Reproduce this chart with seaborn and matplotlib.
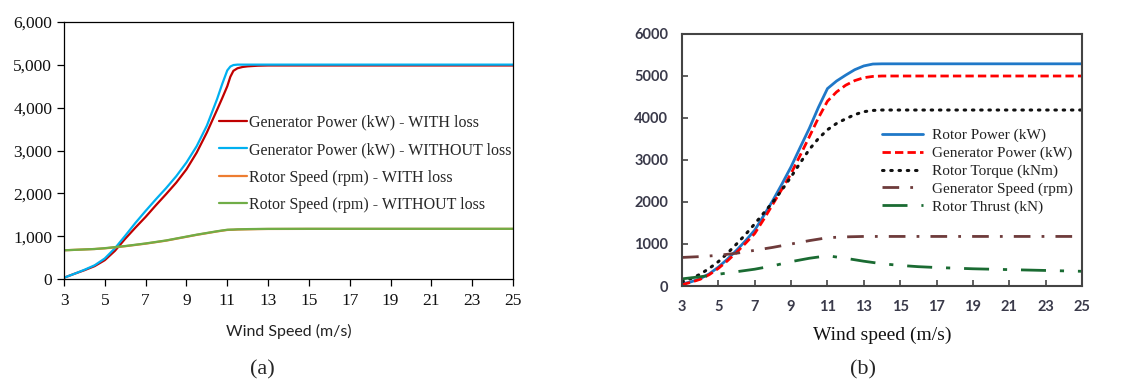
import matplotlib
matplotlib.use("Agg")
import matplotlib.pyplot as plt
import seaborn as sns
from matplotlib.ticker import FuncFormatter

# ---- panel (a) data ----
ws_a = [3, 3.5, 4, 4.5, 5, 5.5, 6, 6.5, 7, 7.5, 8, 8.5, 9, 9.5, 10, 10.5, 10.75, 11, 11.15, 11.3, 11.5, 11.75, 12, 12.5, 13, 15, 17, 19, 21, 23, 25]
gen_with = [30, 120, 205, 300, 440, 660, 940, 1200, 1450, 1720, 1980, 2250, 2560, 2950, 3420, 3950, 4220, 4500, 4720, 4860, 4920, 4950, 4965, 4980, 4985, 4985, 4985, 4985, 4985, 4985, 4985]
gen_without = [30, 120, 215, 320, 480, 720, 1010, 1310, 1590, 1860, 2120, 2400, 2720, 3100, 3580, 4200, 4550, 4870, 4960, 4995, 5005, 5005, 5005, 5005, 5005, 5005, 5005, 5005, 5005, 5005, 5005]
rot_with = [670, 680, 690, 700, 715, 740, 765, 795, 825, 860, 895, 940, 985, 1030, 1070, 1110, 1128, 1145, 1148, 1150, 1155, 1158, 1160, 1165, 1168, 1170, 1170, 1170, 1170, 1170, 1170]
rot_without = [670, 680, 690, 700, 720, 745, 770, 800, 830, 865, 900, 945, 990, 1035, 1075, 1115, 1133, 1150, 1153, 1155, 1160, 1162, 1165, 1168, 1170, 1172, 1172, 1172, 1172, 1172, 1172]

# ---- panel (b) data ----
ws_b = [3, 3.5, 4, 4.5, 5, 5.5, 6, 6.5, 7, 7.5, 8, 8.5, 9, 9.5, 10, 10.5, 11, 11.5, 12, 12.5, 13, 13.5, 14, 15, 16, 17, 19, 21, 23, 25]
rotor_power = [50, 100, 175, 290, 450, 640, 850, 1080, 1330, 1680, 2040, 2430, 2840, 3300, 3750, 4250, 4700, 4880, 5020, 5150, 5240, 5285, 5290, 5290, 5290, 5290, 5290, 5290, 5290, 5290]
gen_power = [30, 90, 160, 270, 420, 600, 800, 1020, 1250, 1590, 1950, 2310, 2680, 3110, 3550, 4000, 4400, 4620, 4780, 4890, 4960, 4990, 5000, 5000, 5000, 5000, 5000, 5000, 5000, 5000]
rotor_torque = [100, 180, 280, 420, 580, 780, 1000, 1230, 1480, 1740, 2000, 2290, 2600, 2930, 3250, 3510, 3720, 3870, 3980, 4080, 4150, 4180, 4190, 4190, 4190, 4190, 4190, 4190, 4190, 4190]
gen_speed = [680, 690, 700, 715, 730, 755, 780, 815, 850, 885, 920, 960, 1000, 1040, 1080, 1115, 1150, 1160, 1170, 1175, 1180, 1180, 1180, 1180, 1180, 1180, 1180, 1180, 1180, 1180]
rotor_thrust = [170, 195, 220, 250, 280, 310, 340, 370, 400, 440, 480, 530, 580, 620, 660, 690, 720, 690, 660, 625, 590, 560, 530, 490, 460, 440, 410, 390, 370, 350]

x_ticks = list(range(3, 26, 2))

sns.set_theme(style="white")
SERIF = ["Liberation Serif", "DejaVu Serif"]
SANS = ["Lato", "DejaVu Sans"]
plt.rcParams["font.family"] = SERIF

fig = plt.figure(figsize=(11.39, 3.81), dpi=100)

# ---------------- (a) ----------------
ax1 = fig.add_axes([64 / 1139, 1 - 279 / 381, (513 - 64) / 1139, (279 - 22) / 381])
sns.lineplot(x=ws_a, y=gen_with, ax=ax1, color="#C00000", lw=1.6, label="Generator Power (kW) - WITH loss")
sns.lineplot(x=ws_a, y=gen_without, ax=ax1, color="#00B0F0", lw=1.6, label="Generator Power (kW) - WITHOUT loss")
sns.lineplot(x=ws_a, y=rot_with, ax=ax1, color="#ED7D31", lw=1.6, label="Rotor Speed (rpm) - WITH loss")
sns.lineplot(x=ws_a, y=rot_without, ax=ax1, color="#70AD47", lw=1.6, label="Rotor Speed (rpm) - WITHOUT loss")
ax1.set_xlim(3, 25)
ax1.set_ylim(0, 6000)
ax1.set_xticks(x_ticks)
ax1.set_yticks(range(0, 6001, 1000))
ax1.yaxis.set_major_formatter(FuncFormatter(lambda v, p: f"{int(v):,}"))
ax1.tick_params(axis="both", direction="out", length=5, width=0.9, color="black",
                labelsize=12.5, labelcolor="#111111", bottom=True, left=True)
ax1.tick_params(axis="x", pad=5)
for s in ax1.spines.values():
    s.set_color("black")
    s.set_linewidth(0.9)
ax1.set_xlabel("Wind Speed (m/s)", fontsize=11.5, family=SANS, color="#222222", labelpad=11)
ax1.set_ylabel("")
ax1.legend(loc="upper left", bbox_to_anchor=(0.345, 0.64), frameon=False, fontsize=11.5,
           handlelength=1.75, handletextpad=0.15, labelspacing=0.72, borderpad=0, borderaxespad=0)

# ---------------- (b) ----------------
ax2 = fig.add_axes([682 / 1139, 1 - 286 / 381, (1082 - 682) / 1139, (286 - 34) / 381])
sns.lineplot(x=ws_b, y=rotor_power, ax=ax2, color="#1F78C8", lw=2.0, label="Rotor Power (kW)")
sns.lineplot(x=ws_b, y=gen_power, ax=ax2, color="#FF0000", lw=2.0, label="Generator Power (kW)")
sns.lineplot(x=ws_b, y=rotor_torque, ax=ax2, color="#111111", lw=2.2, label="Rotor Torque (kNm)")
sns.lineplot(x=ws_b, y=gen_speed, ax=ax2, color="#6E3B3B", lw=2.0, label="Generator Speed (rpm)")
sns.lineplot(x=ws_b, y=rotor_thrust, ax=ax2, color="#1A6B32", lw=2.0, label="Rotor Thrust (kN)")
lines = ax2.get_lines()
lines[1].set_dashes([3, 1.5])
lines[2].set_dashes([0.5, 2.2])
lines[2].set_dash_capstyle("round")
lines[3].set_dashes([6, 4, 1, 4])
lines[4].set_dashes([9, 5, 1.5, 5])
ax2.set_xlim(3, 25)
ax2.set_ylim(0, 6000)
ax2.set_xticks(x_ticks)
ax2.set_yticks(range(0, 6001, 1000))
ax2.tick_params(axis="both", direction="in", length=4, width=1.2, color="#444444",
                labelsize=10.5, labelcolor="#3A3A4A", bottom=True, left=True)
ax2.tick_params(axis="y", pad=10)
ax2.tick_params(axis="x", pad=10)
for lab in ax2.get_xticklabels() + ax2.get_yticklabels():
    lab.set_family(SANS)
    lab.set_fontweight("bold")
for s in ax2.spines.values():
    s.set_color("#444444")
    s.set_linewidth(1.5)
ax2.set_xlabel("Wind speed (m/s)", fontsize=14, color="#111111", labelpad=9)
ax2.set_ylabel("")
leg2 = ax2.legend(loc="upper left", bbox_to_anchor=(0.5, 0.625), frameon=False, fontsize=11,
                  handlelength=2.7, handletextpad=0.6, labelspacing=0.26, borderpad=0, borderaxespad=0)
for t in leg2.get_texts():
    t.set_color("#222222")

fig.text(262 / 1139, 1 - 370 / 381, "(a)", ha="center", va="center", fontsize=16)
fig.text(863 / 1139, 1 - 370 / 381, "(b)", ha="center", va="center", fontsize=16)

fig.savefig("out.png", dpi=100)
